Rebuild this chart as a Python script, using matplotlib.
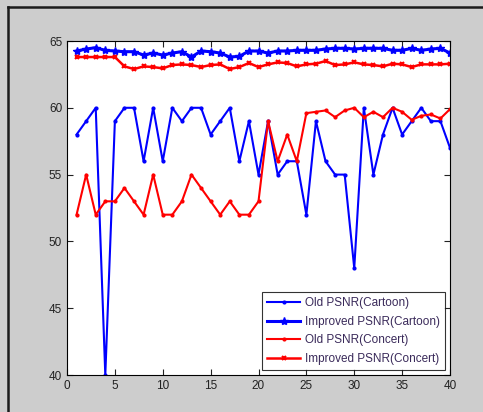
import numpy as np
import matplotlib.pyplot as plt
from matplotlib.lines import Line2D

plt.rcParams['font.family'] = ['Liberation Sans', 'DejaVu Sans']

# Data
frames = np.arange(1, 41)
old_cartoon = [58, 59, 60, 40, 59, 60, 60, 56, 60, 56,
               60, 59, 60, 60, 58, 59, 60, 56, 59, 55,
               59, 55, 56, 56, 52, 59, 56, 55, 55, 48,
               60, 55, 58, 60, 58, 59, 60, 59, 59, 57]
imp_cartoon = [64.25, 64.4, 64.5, 64.3, 64.25, 64.2, 64.2, 63.95, 64.1, 63.95,
               64.1, 64.2, 63.8, 64.25, 64.2, 64.1, 63.8, 63.85, 64.25, 64.25,
               64.1, 64.25, 64.25, 64.3, 64.3, 64.3, 64.4, 64.45, 64.45, 64.4,
               64.45, 64.45, 64.45, 64.3, 64.3, 64.45, 64.3, 64.4, 64.45, 64.1]
old_concert = [52, 55, 52, 53, 53, 54, 53, 52, 55, 52,
               52, 53, 55, 54, 53, 52, 53, 52, 52, 53,
               59, 56, 58, 56, 59.6, 59.7, 59.8, 59.3, 59.8, 60,
               59.3, 59.7, 59.3, 60, 59.7, 59.1, 59.4, 59.5, 59.2, 59.9]
imp_concert = [63.8, 63.8, 63.8, 63.8, 63.8, 63.1, 62.9, 63.1, 63.05, 62.95,
               63.2, 63.25, 63.2, 63.05, 63.2, 63.25, 62.9, 63.05, 63.35, 63.05,
               63.25, 63.4, 63.35, 63.1, 63.25, 63.3, 63.5, 63.2, 63.25, 63.4,
               63.25, 63.2, 63.1, 63.3, 63.25, 63.05, 63.25, 63.25, 63.25, 63.3]

fig = plt.figure(figsize=(4.83, 4.12), dpi=100)
fig.patch.set_facecolor('#cdcdcd')

# dark frame on top and left edges
fig.add_artist(Line2D([8/483, 8/483], [0, 1 - 7/412], color='#1a1a1a', lw=1.8))
fig.add_artist(Line2D([8/483, 1], [1 - 7/412, 1 - 7/412], color='#1a1a1a', lw=1.8))

ax = fig.add_axes([67/483, 37/412, 383/483, 334/412])
ax.plot(frames, old_cartoon, color='blue', lw=1.5, marker='.', ms=4, label='Old PSNR(Cartoon)')
ax.plot(frames, imp_cartoon, color='blue', lw=2.2, marker='*', ms=6, label='Improved PSNR(Cartoon)')
ax.plot(frames, old_concert, color='red', lw=1.5, marker='.', ms=4, label='Old PSNR(Concert)')
ax.plot(frames, imp_concert, color='red', lw=1.8, marker='x', ms=3, mew=1.5, label='Improved PSNR(Concert)')

ax.set_xlim(0, 40)
ax.set_ylim(40, 65)
ax.set_xticks(np.arange(0, 41, 5))
ax.set_yticks(np.arange(40, 66, 5))
ax.tick_params(direction='in', top=True, right=True, labelsize=8.5, colors='#222222', length=4)
for s in ax.spines.values():
    s.set_linewidth(0.8)

leg = ax.legend(loc='lower right', fontsize=8.5, frameon=True, fancybox=False,
                edgecolor='black', borderaxespad=0.4, handlelength=2.8,
                labelspacing=0.55, borderpad=0.45, handletextpad=0.4)
leg.get_frame().set_linewidth(0.8)
for t in leg.get_texts():
    t.set_color('#3a2a5a')

fig.savefig('out.png', dpi=100, facecolor=fig.get_facecolor())
